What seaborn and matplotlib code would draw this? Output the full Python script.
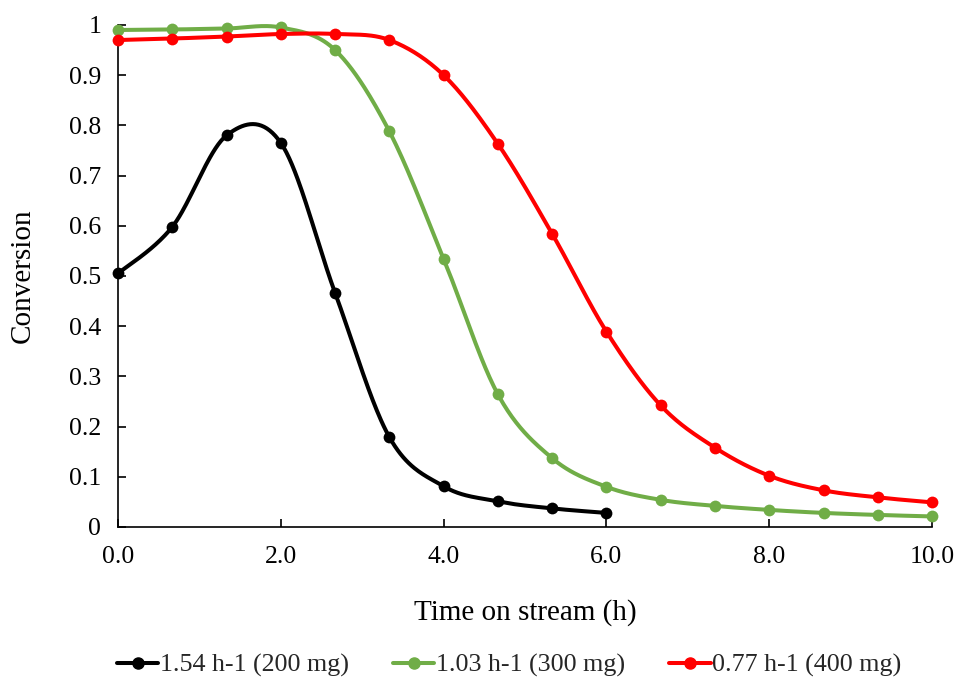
import numpy as np
import pandas as pd
import matplotlib
matplotlib.use("Agg")
import matplotlib.pyplot as plt
from matplotlib.lines import Line2D
import seaborn as sns

# ---- data ----
time_200 = [0.0, 0.667, 1.333, 2.0, 2.667, 3.333, 4.0, 4.667, 5.333, 6.0]
conv_200 = [0.505, 0.598, 0.780, 0.765, 0.466, 0.179, 0.081, 0.051, 0.037, 0.028]

time_300 = [0.0, 0.667, 1.333, 2.0, 2.667, 3.333, 4.0, 4.667, 5.333, 6.0,
            6.667, 7.333, 8.0, 8.667, 9.333, 10.0]
conv_300 = [0.990, 0.991, 0.993, 0.995, 0.950, 0.788, 0.534, 0.264, 0.137, 0.080,
            0.054, 0.042, 0.034, 0.028, 0.024, 0.021]

time_400 = [0.0, 0.667, 1.333, 2.0, 2.667, 3.333, 4.0, 4.667, 5.333, 6.0,
            6.667, 7.333, 8.0, 8.667, 9.333, 10.0]
conv_400 = [0.970, 0.973, 0.977, 0.982, 0.982, 0.970, 0.900, 0.763, 0.584, 0.389,
            0.242, 0.158, 0.102, 0.073, 0.059, 0.049]

labels = ["1.54 h-1 (200 mg)", "1.03 h-1 (300 mg)", "0.77 h-1 (400 mg)"]
colors = ["#000000", "#70AD47", "#FF0000"]
x_ticks = [0, 2, 4, 6, 8, 10]
y_ticks = [0, 0.1, 0.2, 0.3, 0.4, 0.5, 0.6, 0.7, 0.8, 0.9, 1.0]


def smooth(xs, ys, n=40):
    """Excel-style smoothed line (Catmull-Rom Bezier) through the points."""
    p = np.column_stack([xs, ys]).astype(float)
    ext = np.vstack([p[0], p, p[-1]])
    out = []
    t = np.linspace(0, 1, n)[:, None]
    for i in range(len(p) - 1):
        p0, p1, p2, p3 = ext[i], ext[i + 1], ext[i + 2], ext[i + 3]
        c1 = p1 + (p2 - p0) / 6.0
        c2 = p2 - (p3 - p1) / 6.0
        seg = ((1 - t) ** 3) * p1 + 3 * ((1 - t) ** 2) * t * c1 + 3 * (1 - t) * t ** 2 * c2 + t ** 3 * p2
        out.append(seg if i == 0 else seg[1:])
    s = np.vstack(out)
    return s[:, 0], s[:, 1]


sns.set_theme(style="white")
plt.rcParams["font.family"] = ["Liberation Serif", "DejaVu Serif"]

fig = plt.figure(figsize=(9.55, 6.77), dpi=100)
ax = fig.add_axes([0.1236, 0.2216, 0.8524, 0.7415])

series = [(time_200, conv_200), (time_300, conv_300), (time_400, conv_400)]
handles = []
for (xs, ys), lab, col in zip(series, labels, colors):
    sx, sy = smooth(xs, ys)
    sns.lineplot(x=sx, y=sy, ax=ax, color=col, linewidth=2.9, sort=False,
                 estimator=None, legend=False, clip_on=False)
    sns.scatterplot(x=xs, y=ys, ax=ax, color=col, s=72, edgecolor=col,
                    linewidth=0, legend=False, zorder=3, clip_on=False)
    handles.append(Line2D([0], [0], color=col, linewidth=2.9, marker="o",
                          markersize=8, label=lab))

ax.set_xlim(0, 10)
ax.set_ylim(0, 1)
ax.set_xticks(x_ticks)
ax.set_xticklabels([f"{v:.1f}" for v in x_ticks])
ax.set_yticks(y_ticks)
ax.set_yticklabels(["0" if v == 0 else ("1" if v == 1 else f"{v:.1f}") for v in y_ticks])

for side in ["top", "right"]:
    ax.spines[side].set_visible(False)
for side in ["left", "bottom"]:
    ax.spines[side].set_color("black")
    ax.spines[side].set_linewidth(1.2)

ax.tick_params(axis="both", direction="in", length=6, width=1.2, color="black",
               labelsize=18.5, labelcolor="black")
ax.tick_params(axis="x", pad=14)
ax.tick_params(axis="y", pad=12)
ax.tick_params(axis="y", left=True)
ax.tick_params(axis="x", bottom=True)

ax.set_xlabel("Time on stream (h)", fontsize=21, labelpad=22, color="black")
ax.set_ylabel("Conversion", fontsize=21, labelpad=24, color="black")

fig.legend(handles=handles, loc="lower center", bbox_to_anchor=(0.533, -0.035),
           ncol=3, frameon=False, fontsize=18.7, handlelength=1.6,
           handletextpad=0.05, columnspacing=1.7)

fig.savefig("out.png", dpi=100, facecolor="white")
